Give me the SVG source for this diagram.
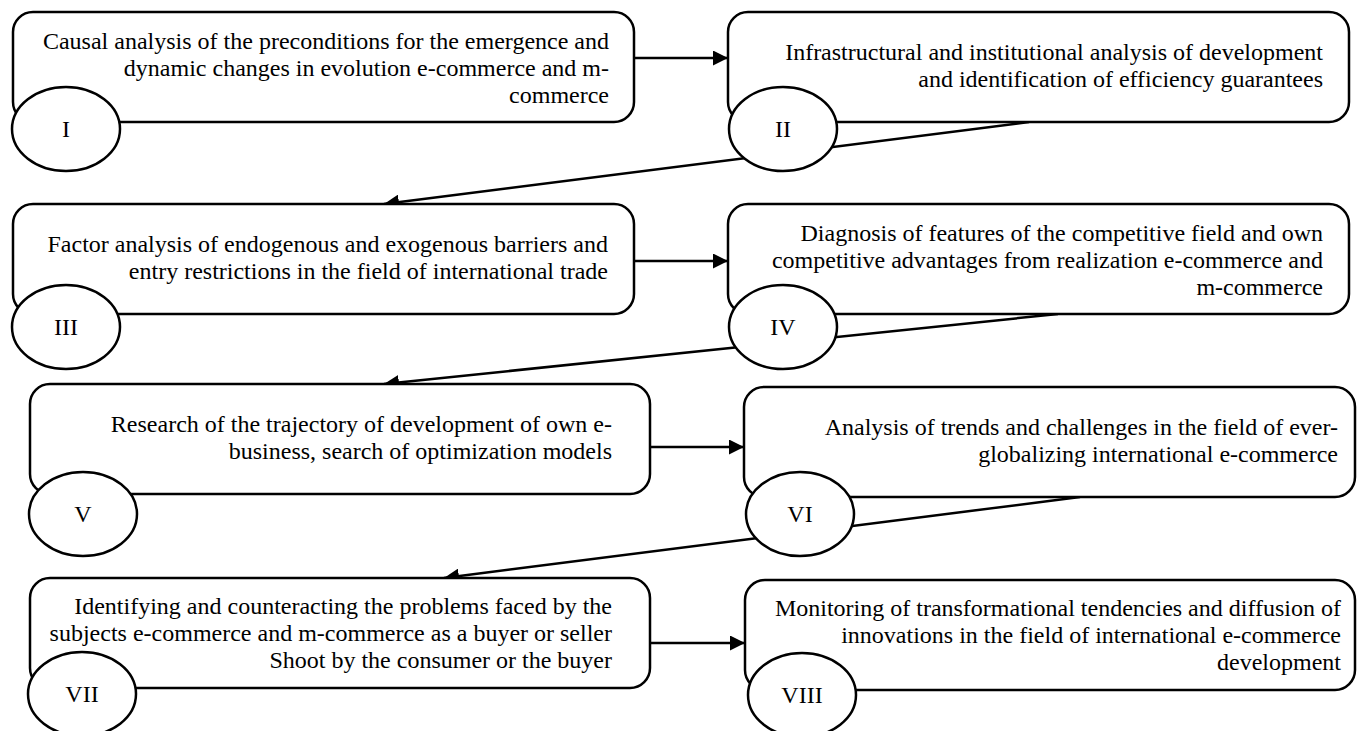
<svg xmlns="http://www.w3.org/2000/svg" width="1357" height="731" viewBox="0 0 1357 731">
<style>
.box{fill:#fff;stroke:#000;stroke-width:2.5}
.num{fill:#fff;stroke:#000;stroke-width:2.5}
.t{font-family:"Liberation Serif","Times New Roman",serif;font-size:24px;fill:#000;text-anchor:end}
.n{font-family:"Liberation Serif","Times New Roman",serif;font-size:24px;fill:#000;text-anchor:middle}
.c{fill:none;stroke:#000;stroke-width:2.5}
</style>
<defs>
<marker id="ah" markerUnits="userSpaceOnUse" markerWidth="16" markerHeight="15" refX="15" refY="7.5" orient="auto">
<path d="M0,0 L15,7.5 L0,15 Z" fill="#000"/>
</marker>
</defs>
<rect width="1357" height="731" fill="#fff"/>
<g id="connectors">
<line class="c" x1="634" y1="58" x2="728" y2="58" marker-end="url(#ah)"/>
<line class="c" x1="1029" y1="122" x2="384" y2="204" marker-end="url(#ah)"/>
<line class="c" x1="634" y1="261" x2="728" y2="261" marker-end="url(#ah)"/>
<line class="c" x1="1058" y1="314" x2="384" y2="384" marker-end="url(#ah)"/>
<line class="c" x1="650" y1="447" x2="744" y2="447" marker-end="url(#ah)"/>
<line class="c" x1="1080" y1="497" x2="444" y2="578" marker-end="url(#ah)"/>
<line class="c" x1="650" y1="643" x2="745" y2="643" marker-end="url(#ah)"/>
</g>
<g id="node1">
<rect class="box" x="13" y="12" width="621" height="110" rx="20"/>
<text class="t"><tspan x="609" y="49">Causal analysis of the preconditions for the emergence and</tspan><tspan x="609" y="76">dynamic changes in evolution e-commerce and m-</tspan><tspan x="609" y="103">commerce</tspan></text>
<ellipse class="num" cx="66" cy="129" rx="54" ry="42"/>
<text class="n" x="66" y="137">I</text>
</g>
<g id="node2">
<rect class="box" x="728" y="12" width="621" height="110" rx="20"/>
<text class="t"><tspan x="1323" y="60">Infrastructural and institutional analysis of development</tspan><tspan x="1323" y="87">and identification of efficiency guarantees</tspan></text>
<ellipse class="num" cx="783" cy="129" rx="54" ry="42"/>
<text class="n" x="783" y="137">II</text>
</g>
<g id="node3">
<rect class="box" x="13" y="204" width="621" height="110" rx="20"/>
<text class="t"><tspan x="608" y="252">Factor analysis of endogenous and exogenous barriers and</tspan><tspan x="608" y="279">entry restrictions in the field of international trade</tspan></text>
<ellipse class="num" cx="66" cy="327" rx="54" ry="42"/>
<text class="n" x="66" y="335">III</text>
</g>
<g id="node4">
<rect class="box" x="728" y="204" width="621" height="110" rx="20"/>
<text class="t"><tspan x="1323" y="241">Diagnosis of features of the competitive field and own</tspan><tspan x="1323" y="268">competitive advantages from realization e-commerce and</tspan><tspan x="1323" y="295">m-commerce</tspan></text>
<ellipse class="num" cx="783" cy="327" rx="54" ry="42"/>
<text class="n" x="783" y="335">IV</text>
</g>
<g id="node5">
<rect class="box" x="30" y="384" width="620" height="110" rx="20"/>
<text class="t"><tspan x="612" y="432">Research of the trajectory of development of own e-</tspan><tspan x="612" y="459">business, search of optimization models</tspan></text>
<ellipse class="num" cx="83" cy="514" rx="54" ry="42"/>
<text class="n" x="83" y="522">V</text>
</g>
<g id="node6">
<rect class="box" x="744" y="387" width="611" height="110" rx="20"/>
<text class="t"><tspan x="1338" y="435">Analysis of trends and challenges in the field of ever-</tspan><tspan x="1338" y="462">globalizing international e-commerce</tspan></text>
<ellipse class="num" cx="800" cy="514" rx="54" ry="42"/>
<text class="n" x="800" y="522">VI</text>
</g>
<g id="node7">
<rect class="box" x="30" y="578" width="620" height="110" rx="20"/>
<text class="t"><tspan x="612" y="614">Identifying and counteracting the problems faced by the</tspan><tspan x="612" y="641">subjects e-commerce and m-commerce as a buyer or seller</tspan><tspan x="612" y="668">Shoot by the consumer or the buyer</tspan></text>
<ellipse class="num" cx="82" cy="694" rx="54" ry="42"/>
<text class="n" x="82" y="702">VII</text>
</g>
<g id="node8">
<rect class="box" x="745" y="580" width="610" height="110" rx="20"/>
<text class="t"><tspan x="1341" y="616">Monitoring of transformational tendencies and diffusion of</tspan><tspan x="1341" y="643">innovations in the field of international e-commerce</tspan><tspan x="1341" y="670">development</tspan></text>
<ellipse class="num" cx="802" cy="695" rx="54" ry="42"/>
<text class="n" x="802" y="703">VIII</text>
</g>
</svg>
